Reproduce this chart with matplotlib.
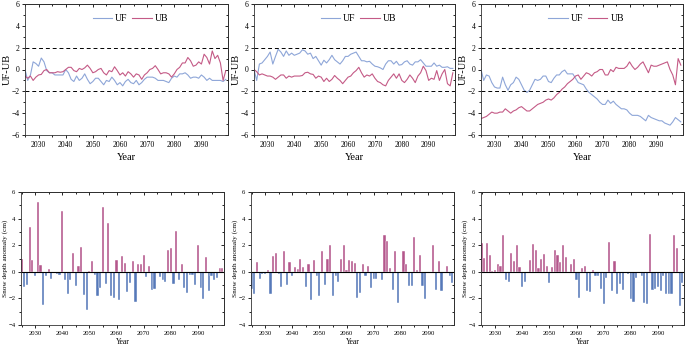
import matplotlib
matplotlib.use("Agg")
import matplotlib.pyplot as plt
import numpy as np
from matplotlib.ticker import MultipleLocator

plt.rcParams['font.family'] = ['Liberation Serif', 'DejaVu Serif']

years = list(range(2025, 2100))

uf1 = [0.0, -1.0, -0.5, 0.7, 0.55, 0.3, 1.05, 0.7, -0.1, -0.3, -0.3, -0.5, -0.5, -0.5, -0.5, 0.0, -0.3, -0.9, -1.1, -0.6,
       -1.0, -0.8, -0.4, -0.9, -1.3, -1.1, -0.8, -0.8, -1.1, -1.4, -1.0, -1.1, -0.7, -1.0, -1.4, -1.2, -1.5, -1.1, -0.9, -1.2,
       -1.3, -1.0, -1.4, -1.2, -0.9, -0.7, -0.7, -0.7, -0.8, -1.0, -1.0, -1.0, -1.1, -1.2, -0.8, -0.6, -0.7, -0.4, -0.4, -0.3,
       -0.5, -0.8, -0.7, -0.7, -0.8, -0.5, -0.7, -1.0, -0.8, -1.0, -1.0, -1.0, -1.0, -1.1, -0.9]
ub1 = [-0.6, -0.8, -0.6, -1.0, -0.7, -0.5, -0.45, -0.1, 0.0, -0.3, -0.3, -0.3, -0.2, -0.25, -0.2, 0.0, 0.2, 0.2, -0.1, -0.2,
       0.1, 0.0, 0.15, 0.4, 0.1, -0.3, -0.2, 0.0, 0.1, -0.3, -0.5, -0.1, -0.2, 0.25, -0.1, -0.5, -0.3, -0.6, -0.2, -0.4,
       -0.7, -0.4, -0.5, -0.9, -0.5, -0.3, 0.0, 0.1, 0.35, 0.0, -0.4, -0.3, -0.3, -0.4, -0.7, -0.4, 0.0, 0.2, 0.6, 0.6,
       1.1, 0.8, 0.3, 0.4, 0.7, 0.5, 1.4, 1.1, 0.5, 1.7, 1.0, 1.3, 0.6, -1.0, -0.1]

uf2 = [0.0, -1.0, 0.5, 0.6, 0.9, 1.2, 1.6, 0.5, 1.2, 1.85, 1.6, 1.2, 1.7, 1.3, 1.5, 1.3, 1.4, 1.5, 1.8, 1.7,
       1.4, 1.5, 1.0, 1.2, 0.8, 0.4, 0.85, 0.6, 0.9, 1.3, 0.9, 0.7, 0.5, 0.8, 1.2, 1.2, 1.4, 1.5, 1.6, 1.2,
       0.8, 0.8, 0.7, 0.75, 0.5, 0.3, 0.25, 0.15, 0.0, 0.5, 0.8, 0.8, 0.5, 0.75, 0.4, 0.45, 0.7, 0.8, 0.5, 0.4,
       0.7, 0.7, 0.9, 0.6, 0.3, 0.3, 0.3, 0.6, 0.3, 0.4, 0.2, 0.2, 0.25, 0.1, 0.1]
ub2 = [0.0, -0.2, -0.5, -0.4, -0.5, -0.6, -0.6, -0.7, -0.9, -0.7, -0.5, -0.5, -0.8, -0.6, -0.7, -0.6, -0.6, -0.6, -0.55, -0.3,
       -0.25, -0.4, -0.45, -0.8, -0.6, -0.7, -1.1, -0.8, -1.1, -0.9, -0.55, -0.8, -1.0, -1.3, -1.0, -0.7, -0.6, -0.3, -0.1, 0.2,
       -0.3, -0.7, -0.5, -0.6, -0.4, -0.8, -1.1, -1.2, -1.4, -1.5, -1.0, -0.7, -0.4, -0.8, -0.4, -1.0, -1.2, -0.9, -0.5, -0.8,
       -1.2, -0.6, -0.3, 0.3, -0.1, -1.0, -0.8, -0.9, -0.1, -1.0, -0.4, 0.0, -1.3, -1.5, -0.3]

uf3 = [0.0, -1.0, -0.5, -0.6, -1.2, -1.6, -1.7, -1.7, -0.7, -1.4, -1.9, -1.4, -1.2, -0.7, -0.9, -1.4, -1.9, -2.1, -1.9, -1.4,
       -0.9, -1.0, -0.9, -0.6, -0.6, -1.1, -1.2, -0.8, -0.5, -0.5, -0.2, -0.05, -0.4, -0.4, -0.4, -0.8, -1.2, -1.3, -1.4, -1.8,
       -2.1, -2.3, -2.5, -2.7, -3.0, -3.2, -3.2, -2.8, -3.1, -2.9, -3.2, -3.4, -3.6, -3.6, -3.7, -4.0, -4.2, -4.2, -4.2, -4.3,
       -4.5, -4.7, -4.2, -4.4, -4.5, -4.6, -4.7, -4.7, -4.9, -5.0, -5.1, -4.8, -4.4, -4.6, -4.8]
ub3 = [-4.5, -4.4, -4.3, -4.1, -3.9, -4.0, -4.0, -3.9, -3.9, -3.6, -3.8, -4.0, -3.8, -3.7, -3.5, -3.4, -3.6, -3.8, -3.8, -3.6,
       -3.4, -3.2, -3.1, -3.0, -2.8, -2.7, -2.8, -2.6, -2.3, -2.1, -1.8, -1.6, -1.3, -1.1, -0.9, -0.6, -0.5, -0.9, -0.6, -0.3,
       -0.4, -0.6, -0.3, -0.2, 0.0, 0.0, -0.5, -0.5, 0.0, -0.2, 0.2, 0.1, 0.1, 0.1, 0.3, 0.7, 0.3, 0.0, 0.2, 0.5,
       0.7, 0.2, -0.3, 0.4, 0.3, 0.3, 0.4, 0.5, 0.6, 0.7, 0.0, -0.5, -1.4, 1.0, 0.4]

anom1 = [1.0, -1.15, -1.0, 3.4, 0.9, -0.35, 5.25, 0.5, -2.5, -0.3, 0.2, -0.55, 0.0, -0.2, -0.25, 4.55, -0.65, -1.65, -0.65, 1.45,
         -1.1, 0.4, 1.85, -1.75, -2.85, 0.05, 0.8, -0.25, -1.8, -1.2, 4.9, -0.95, 3.7, -1.8, -1.95, 0.85, -2.1, 1.2, 0.65, -1.5,
         -0.85, 0.8, -2.3, 0.6, 0.6, 1.3, -0.4, 0.4, -1.4, -1.3, -0.1, -0.4, -0.65, -0.8, 1.65, 1.8, -0.9, 3.05, -0.6, 0.55,
         -1.25, -1.6, -0.25, -0.25, -1.0, 2.0, -1.2, -2.05, 1.1, -1.45, -0.3, -0.6, -0.45, 0.3, 0.25]
anom2 = [-1.3, -1.65, 0.7, -0.55, -0.2, -0.15, 0.1, -1.7, 1.2, 1.45, -0.15, -1.15, 1.6, -1.0, 0.75, -0.3, 0.35, 0.2, 1.0, 0.35,
         -1.15, 0.55, -2.15, 0.85, -0.3, -1.8, 1.55, -1.0, 0.95, 2.0, -1.8, -0.3, -0.75, 0.95, 2.05, 0.15, 0.9, 0.8, 0.65, -2.0,
         -1.6, 0.55, -0.3, 0.4, -1.2, -0.55, -0.55, 0.0, -0.6, 2.75, 2.3, 0.3, -1.35, 1.6, -2.35, -0.1, 1.55, 0.6, -1.05, -1.05,
         2.65, 0.1, 1.25, -1.1, -2.05, 0.02, -0.1, 2.0, -1.4, 0.8, -1.45, 0.0, 0.45, -0.35, -0.85]
anom3 = [2.2, 1.05, 2.2, 1.3, 0.05, 0.15, 0.55, 0.4, 2.8, -0.6, -0.8, 1.4, 0.8, 2.05, 0.35, -1.15, -0.8, -0.05, 0.85, 2.1,
         1.65, 0.3, 1.0, 1.35, 0.45, -0.85, 0.35, 1.65, 1.3, 0.7, 2.0, 1.15, -0.1, 0.55, 0.95, -0.6, -1.95, 0.25, 0.4, -1.45,
         -1.5, 0.1, -0.35, -0.35, -1.3, -2.45, -0.45, 2.25, -1.45, 0.8, -1.65, -0.95, -1.35, -0.1, -0.15, -2.05, -2.3, -0.45, -0.1, -0.35,
         -2.35, -2.4, 2.85, -1.4, -1.3, -1.15, -1.45, -0.3, -1.7, -1.7, -1.65, 2.8, 1.8, -2.55, -0.85]

xticks = [2030, 2040, 2050, 2060, 2070, 2080, 2090]

UF_COLOR = '#8EA6D8'
UB_COLOR = '#C45A86'
POS_COLOR = '#B4578C'
NEG_COLOR = '#5679B9'

W, H = 685, 349
fig = plt.figure(figsize=(W / 100, H / 100), dpi=100)

def frac(l, t, r, b):
    return [l / W, 1 - b / H, (r - l) / W, (b - t) / H]

top_boxes = [(25, 4, 228, 135), (254, 4, 455, 135), (481, 4, 683, 135)]
bot_boxes = [(21, 192, 224, 325), (251, 192, 454, 325), (481, 192, 684, 325)]

def style_axis(ax, fs):
    ax.xaxis.set_major_locator(MultipleLocator(10))
    ax.xaxis.set_minor_locator(MultipleLocator(5))
    ax.yaxis.set_major_locator(MultipleLocator(2))
    ax.yaxis.set_minor_locator(MultipleLocator(1))
    ax.tick_params(which='both', direction='out', labelsize=fs, width=0.6, pad=1.5)
    ax.tick_params(which='major', length=2.5)
    ax.tick_params(which='minor', length=1.5)
    for s in ax.spines.values():
        s.set_linewidth(0.6)
        s.set_color('#333333')
    sx = ax.secondary_xaxis('top')
    sx.xaxis.set_major_locator(MultipleLocator(10))
    sx.xaxis.set_minor_locator(MultipleLocator(5))
    sx.tick_params(which='both', direction='in', labeltop=False, width=0.6)
    sx.tick_params(which='major', length=2.5)
    sx.tick_params(which='minor', length=1.5)
    sy = ax.secondary_yaxis('right')
    sy.yaxis.set_major_locator(MultipleLocator(2))
    sy.yaxis.set_minor_locator(MultipleLocator(1))
    sy.tick_params(which='both', direction='in', labelright=False, width=0.6)
    sy.tick_params(which='major', length=2.5)
    sy.tick_params(which='minor', length=1.5)
    for s in list(sx.spines.values()) + list(sy.spines.values()):
        s.set_linewidth(0.6)

for (uf, ub), box in zip([(uf1, ub1), (uf2, ub2), (uf3, ub3)], top_boxes):
    ax = fig.add_axes(frac(*box))
    ax.plot(years, uf, color=UF_COLOR, lw=0.8, label='UF')
    ax.plot(years, ub, color=UB_COLOR, lw=0.8, label='UB')
    ax.axhline(2, color='black', ls=(0, (4, 3)), lw=0.7)
    ax.axhline(-2, color='black', ls=(0, (4, 3)), lw=0.7)
    ax.set_xlim(2025, 2099.8)
    ax.set_ylim(-6, 6)
    ax.set_xticks(xticks)
    style_axis(ax, 5.5)
    ax.set_xlabel('Year', fontsize=7.5, labelpad=3)
    ax.set_ylabel('UF-UB', fontsize=7.5)
    ax.yaxis.set_label_coords(-0.066, 0.5)
    ax.legend(loc='upper center', bbox_to_anchor=(0.52, 0.99), ncol=2, frameon=False,
              fontsize=7, handlelength=2.0, columnspacing=0.5, handletextpad=0.3)

for anom, box in zip([anom1, anom2, anom3], bot_boxes):
    ax = fig.add_axes(frac(*box))
    vals = np.array(anom)
    colors = [POS_COLOR if v >= 0 else NEG_COLOR for v in vals]
    ax.bar(years, vals, width=0.8, color=colors, edgecolor='white', linewidth=0.3)
    ax.axhline(0, color='black', lw=0.8)
    ax.set_xlim(2024.8, 2099.6)
    ax.set_ylim(-4, 6)
    ax.set_xticks(xticks)
    style_axis(ax, 4.8)
    ax.set_xlabel('Year', fontsize=5.5, labelpad=2)
    ax.set_ylabel('Snow depth anomaly (cm)', fontsize=5.2)
    ax.yaxis.set_label_coords(-0.064, 0.5)

fig.savefig('out.png', dpi=100)
